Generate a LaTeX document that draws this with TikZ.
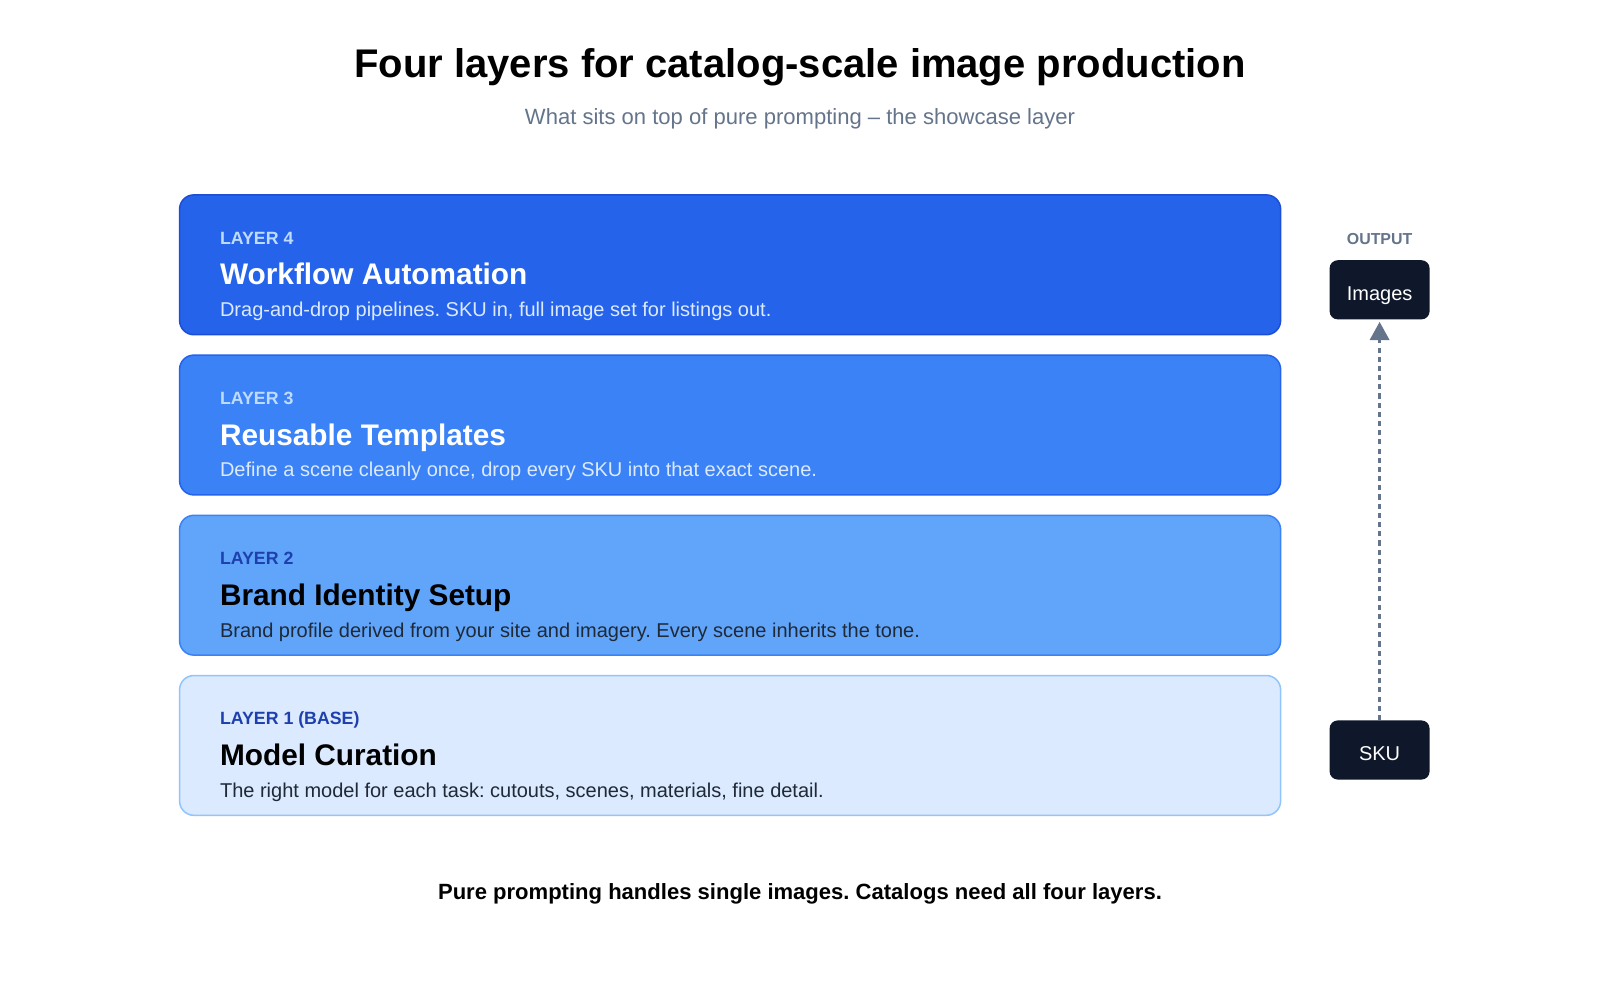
\documentclass[tikz,border=0pt]{standalone}
\usepackage{fontspec}
\setmainfont{Liberation Sans}
\usetikzlibrary{positioning,arrows.meta}
\frenchspacing

\definecolor{ink}{HTML}{0F172A}
\definecolor{slate}{HTML}{64748B}
\definecolor{bluefour}{HTML}{2563EB}
\definecolor{bluethree}{HTML}{3B82F6}
\definecolor{bluetwo}{HTML}{60A5FA}
\definecolor{blueone}{HTML}{DBEAFE}
\definecolor{edgefour}{HTML}{1D4ED8}
\definecolor{edgeone}{HTML}{93C5FD}
\definecolor{paleblue}{HTML}{BFDBFE}
\definecolor{navy}{HTML}{1E40AF}
\definecolor{darktext}{HTML}{1F2937}

\tikzset{
  layer/.style={draw, line width=.75pt, rounded corners=7pt,
    minimum width=539.5pt, minimum height=68.5pt},
  tag/.style={anchor=base west, inner sep=0pt, font=\bfseries\fontsize{8.7}{10}\selectfont},
  head/.style={anchor=base west, inner sep=0pt, font=\bfseries\fontsize{14.6}{16}\selectfont},
  blurb/.style={anchor=base west, inner sep=0pt, font=\fontsize{9.8}{11}\selectfont},
  chip/.style={fill=ink, text=white, rounded corners=4pt, minimum width=49pt,
    minimum height=29pt, inner sep=0pt, text height=10pt, text depth=0pt,
    font=\fontsize{9.8}{11}\selectfont},
  flow/.style={slate, line width=1.4pt, dash pattern=on 2.5pt off 2pt,
    shorten >=1pt, -{Triangle[length=9pt,width=9.5pt]}}
}

\begin{document}
\begin{tikzpicture}[x=0.5pt,y=-0.5pt]
  \useasboundingbox[fill=white] (0,0) rectangle (1568,980);

  \node[font=\bfseries\fontsize{19.6}{23}\selectfont] (title) at (784,66)
    {Four layers for catalog-scale image production};
  \node[slate, font=\fontsize{10.8}{13}\selectfont] (subtitle) at (784,116)
    {What sits on top of pure prompting -- the showcase layer};

  \node[layer, fill=bluefour, draw=edgefour] (l4) at (715.5,259.5) {};
  \node[layer, fill=bluethree, draw=bluefour] (l3) at (715.5,416.5) {};
  \node[layer, fill=bluetwo, draw=bluethree] (l2) at (715.5,573.5) {};
  \node[layer, fill=blueone, draw=edgeone] (l1) at (715.5,730.5) {};

  \node[tag, paleblue] (l4tag) at ([shift={(40,49)}]l4.north west) {LAYER 4};
  \node[head, white] (l4head) at ([shift={(40,89)}]l4.north west) {Workflow Automation};
  \node[blurb, blueone] (l4blurb) at ([shift={(40,120)}]l4.north west)
    {Drag-and-drop pipelines. SKU in, full image set for listings out.};

  \node[tag, paleblue] (l3tag) at ([shift={(40,49)}]l3.north west) {LAYER 3};
  \node[head, white] (l3head) at ([shift={(40,89)}]l3.north west) {Reusable Templates};
  \node[blurb, blueone] (l3blurb) at ([shift={(40,120)}]l3.north west)
    {Define a scene cleanly once, drop every SKU into that exact scene.};

  \node[tag, navy] (l2tag) at ([shift={(40,49)}]l2.north west) {LAYER 2};
  \node[head, black] (l2head) at ([shift={(40,89)}]l2.north west) {Brand Identity Setup};
  \node[blurb, darktext] (l2blurb) at ([shift={(40,120)}]l2.north west)
    {Brand profile derived from your site and imagery. Every scene inherits the tone.};

  \node[tag, navy] (l1tag) at ([shift={(40,49)}]l1.north west) {LAYER 1 (BASE)};
  \node[head, black] (l1head) at ([shift={(40,89)}]l1.north west) {Model Curation};
  \node[blurb, darktext] (l1blurb) at ([shift={(40,120)}]l1.north west)
    {The right model for each task: cutouts, scenes, materials, fine detail.};

  \node[slate, font=\bfseries\fontsize{7.8}{9}\selectfont] (out) at (1352,234) {OUTPUT};
  \node[chip] (img) at (1352,284) {Images};
  \node[chip] (sku) at (1352,735) {SKU};
  \draw[flow] (sku) -- (img);

  \node[font=\bfseries\fontsize{10.8}{13}\selectfont] (foot) at (784,876)
    {Pure prompting handles single images. Catalogs need all four layers.};
\end{tikzpicture}
\end{document}
